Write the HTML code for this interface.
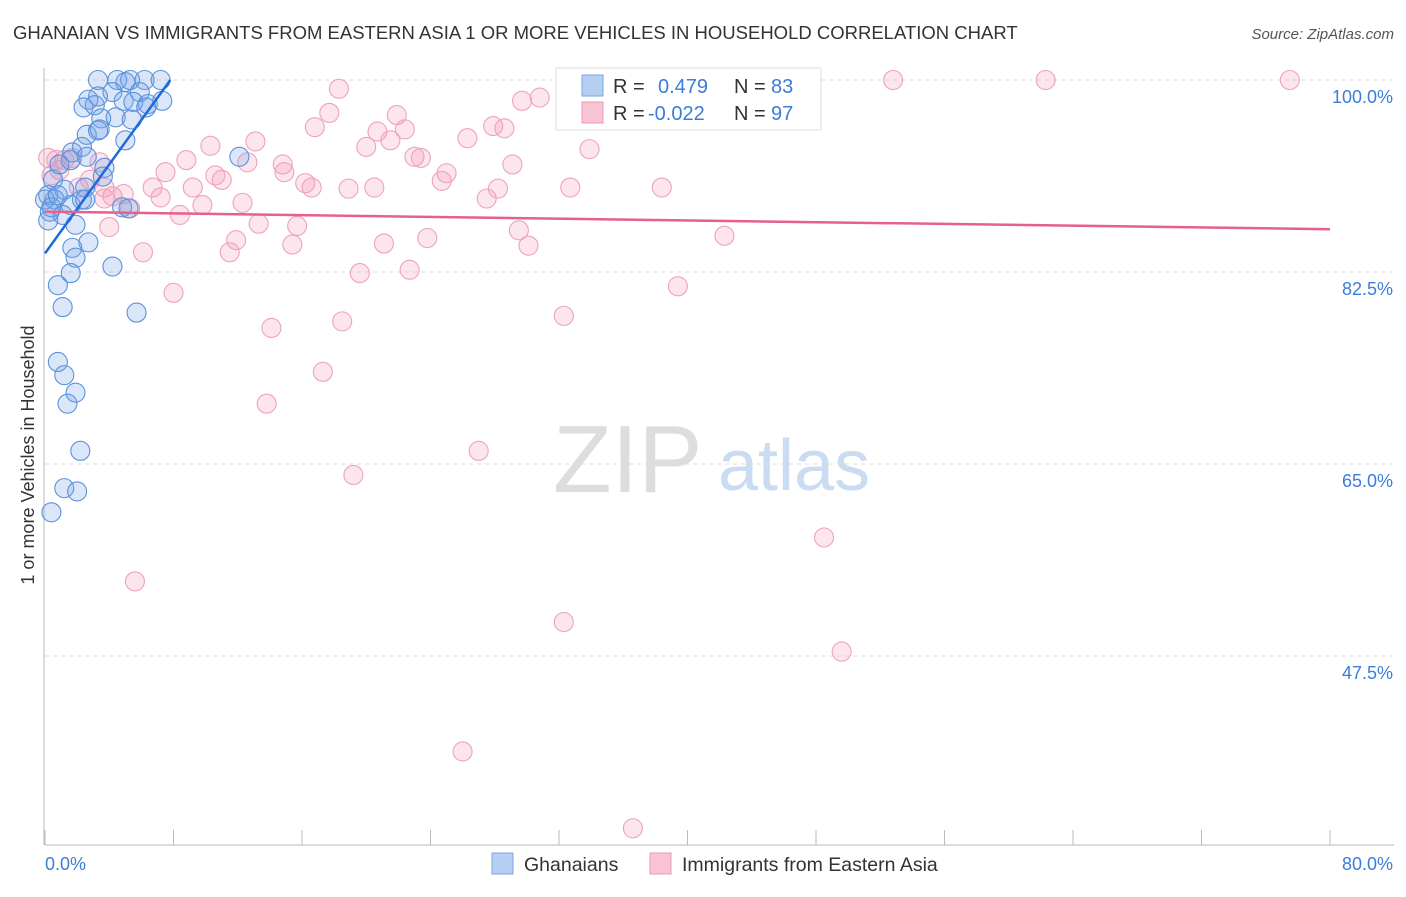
<!DOCTYPE html>
<html><head><meta charset="utf-8"><style>
body{margin:0;background:#fff;font-family:"Liberation Sans",sans-serif;}
svg text{font-family:"Liberation Sans",sans-serif;}
</style></head><body>
<svg id="chart" width="1406" height="892" xmlns="http://www.w3.org/2000/svg">
<text x="13" y="39" font-size="18.5" fill="#333">GHANAIAN VS IMMIGRANTS FROM EASTERN ASIA 1 OR MORE VEHICLES IN HOUSEHOLD CORRELATION CHART</text>
<text x="1394" y="39" font-size="15" fill="#555" text-anchor="end" font-style="italic">Source: ZipAtlas.com</text>
<g>
<text x="553" y="492" font-size="96" fill="#ddd" font-family="Liberation Serif, serif">ZIP</text>
<text x="718" y="490" font-size="72" fill="#c9dcf2">atlas</text>
</g>
<g id="grid"></g>
<g id="axes"></g>
<g id="marks"></g>
<text transform="translate(34,455) rotate(-90)" font-size="18" fill="#333" text-anchor="middle">1 or more Vehicles in Household</text>
<g>
<rect x="556" y="68" width="265" height="62" fill="#fff" stroke="#ddd"/>
<rect x="582" y="75" width="21" height="21" fill="#b5cff3" stroke="#7aa5e3"/>
<rect x="582" y="102" width="21" height="21" fill="#f8c3d3" stroke="#eb9bb5"/>
<text x="613" y="93" font-size="20" fill="#333">R =</text><text x="658" y="93" font-size="20" fill="#3b7dd8">0.479</text>
<text x="734" y="93" font-size="20" fill="#333">N =</text><text x="771" y="93" font-size="20" fill="#3b7dd8">83</text>
<text x="613" y="120" font-size="20" fill="#333">R =</text><text x="648" y="120" font-size="20" fill="#3b7dd8">-0.022</text>
<text x="734" y="120" font-size="20" fill="#333">N =</text><text x="771" y="120" font-size="20" fill="#3b7dd8">97</text>
</g>
<g>
<rect x="492" y="853" width="21" height="21" fill="#b5cff3" stroke="#7aa5e3"/>
<text x="524" y="871" font-size="19.5" fill="#333">Ghanaians</text>
<rect x="650" y="853" width="21" height="21" fill="#f8c3d3" stroke="#eb9bb5"/>
<text x="682" y="871" font-size="19.5" fill="#333">Immigrants from Eastern Asia</text>
</g>
</svg>
<script>
const blueX=[3.3,4.5,5.3,7.2,5.0,6.2,3.3,2.7,4.2,5.9,2.4,3.1,4.9,5.5,6.4,7.3,6.3,3.5,4.4,5.4,2.6,3.3,1.7,2.3,1.6,2.6,3.7,5.0,3.4,12.1,0.5,1.2,0.2,0.6,2.3,1.6,0.3,1.1,0.2,1.9,2.7,1.7,1.9,1.6,4.2,0.8,1.1,5.7,0.8,1.2,1.4,1.9,2.2,1.2,2.0,0.4,4.8,5.2,3.6,0.0,0.4,0.8,2.5,0.9,2.5];
const blueY=[100,100,100,100,99.8,100,98.5,98.2,98.9,98.9,97.5,97.7,98.1,98.0,97.8,98.1,97.5,96.5,96.6,96.4,95.0,95.4,93.4,93.9,92.7,93.0,92.0,94.5,95.5,93.0,90.9,90.0,89.5,89.1,89.1,88.6,88.0,87.7,87.2,86.8,85.2,84.7,83.8,82.4,83.0,81.3,79.3,78.8,74.3,73.1,70.5,71.5,66.2,62.8,62.5,60.6,88.4,88.3,91.2,89.1,88.4,89.5,90.2,92.3,89.1];
const pinkX=[0.7,1.2,1.7,0.9,2.1,2.8,3.7,4.2,4.9,3.7,5.3,4.0,6.1,8.0,5.6,6.7,7.2,7.5,8.4,8.8,9.2,9.8,10.3,10.6,11.0,11.5,11.9,12.3,12.6,13.1,13.3,14.1,13.8,14.8,14.9,15.4,15.7,16.2,16.6,16.8,17.7,18.3,18.5,17.3,19.2,18.9,19.6,20.0,20.5,20.7,21.1,21.5,21.9,22.4,22.7,23.0,23.4,23.8,24.7,25.0,26.0,26.3,27.0,27.5,27.9,28.2,28.6,29.1,29.5,29.7,30.1,30.8,32.3,32.3,32.7,33.9,36.6,38.4,39.4,42.3,48.5,49.6,52.8,62.3,77.5,37.0,38.3,43.3,33.1,33.6,3.4,0.4,0.2];
const pinkY=[92.7,92.7,92.9,91.8,90.2,90.9,90.2,89.4,89.6,89.2,88.3,86.6,84.3,80.6,54.3,90.2,89.3,91.6,87.7,92.7,90.2,88.6,94.0,91.3,90.9,84.3,85.4,88.8,92.5,94.4,86.9,77.4,70.5,92.3,91.6,85.0,86.7,90.6,90.2,95.7,97.0,99.2,78.0,73.4,64.0,90.1,82.4,93.9,90.2,95.3,85.1,94.5,96.8,95.5,82.7,93.0,92.9,85.6,90.8,91.5,38.8,94.7,66.2,89.2,95.8,90.1,95.6,92.3,86.3,98.1,84.9,98.4,78.5,50.6,90.2,93.7,31.8,90.2,81.2,85.8,58.3,47.9,100,100,100,100,99.8,100,96.4,97.3,92.5,91.3,92.9];
const blueTrendX=[0,7.8];
const blueTrendY=[84.2,100];
const pinkTrendX=[0,80];
const pinkTrendY=[88.0,86.4];
const yTicks=[100,82.5,65,47.5];
const yTickLabels=["100.0%","82.5%","65.0%","47.5%"];
const xTicks=[0,8,16,24,32,40,48,56,64,72,80];

const NS="http://www.w3.org/2000/svg";
function sx(v){return 45+v*(1285/80);}
function sy(v){return 80+(100-v)*(192/17.5);}
function mk(tag,attrs,parent){const e=document.createElementNS(NS,tag);for(const k in attrs)e.setAttribute(k,attrs[k]);parent.appendChild(e);return e;}
const grid=document.getElementById('grid'),axes=document.getElementById('axes'),marks=document.getElementById('marks');
yTicks.forEach((t,i)=>{
 const l=mk('line',{x1:45,x2:1394,y1:sy(t),y2:sy(t),stroke:'#ddd','stroke-dasharray':'4,4'},grid);
 
 
 const tx=mk('text',{x:1393,y:sy(t)+23,'font-size':18,fill:'#3b7dd8','text-anchor':'end'},axes);
 tx.textContent=yTickLabels[i];
 
 
});
const ax=mk('line',{x1:45,x2:1394,y1:845,y2:845,stroke:'#bbb'},axes);


const ay=mk('line',{x1:44,x2:44,y1:68,y2:845,stroke:'#bbb'},axes);


xTicks.forEach(t=>{
 const l=mk('line',{x1:sx(t),x2:sx(t),y1:830,y2:845,stroke:'#bbb'},axes);
 
 
});
const xl0=mk('text',{x:45,y:870,'font-size':18,fill:'#3b7dd8'},axes);xl0.textContent=xTicks[0].toFixed(1)+'%';


const xl1=mk('text',{x:1393,y:870,'font-size':18,fill:'#3b7dd8','text-anchor':'end'},axes);xl1.textContent=xTicks[xTicks.length-1].toFixed(1)+'%';


pinkX.forEach((v,i)=>{
 const c=mk('circle',{cx:sx(v),cy:sy(pinkY[i]),r:9.5,fill:'rgba(242,150,180,0.25)',stroke:'#eea3bb','stroke-width':1.1},marks);
 
 
});
blueX.forEach((v,i)=>{
 const c=mk('circle',{cx:sx(v),cy:sy(blueY[i]),r:9.5,fill:'rgba(110,160,230,0.25)',stroke:'#5a92dc','stroke-width':1.1},marks);
 
 
});
const bt=mk('line',{x1:sx(blueTrendX[0]),y1:sy(blueTrendY[0]),x2:sx(blueTrendX[1]),y2:sy(blueTrendY[1]),stroke:'#1f6ad8','stroke-width':2.5},marks);


const pt=mk('line',{x1:sx(pinkTrendX[0]),y1:sy(pinkTrendY[0]),x2:sx(pinkTrendX[1]),y2:sy(pinkTrendY[1]),stroke:'#e6608e','stroke-width':2.5},marks);


</script>
</body></html>
